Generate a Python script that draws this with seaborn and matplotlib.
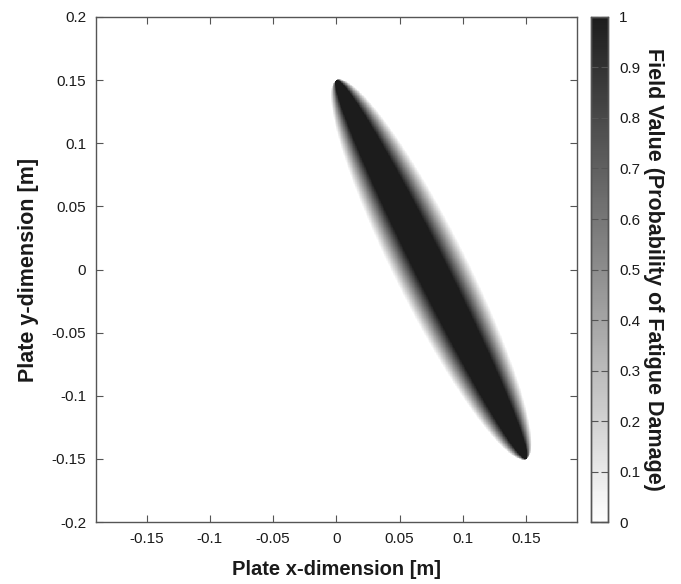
import numpy as np
import matplotlib
matplotlib.use("Agg")
import matplotlib.pyplot as plt
from matplotlib.colors import LinearSegmentedColormap
import seaborn as sns

sns.set_style("white")
plt.rcParams['font.family'] = ['Liberation Sans', 'DejaVu Sans']

# Plate domain [m] and grid step
x_range = [-0.19, 0.19]
y_range = [-0.2, 0.2]
step = 0.0005

# Damage zone: tips, half-width across the band, fully black core fraction
tip_start = [0.0, 0.15]
tip_end = [0.15, -0.15]
half_width = 0.029
core_fraction = 0.42

x_ticks = [-0.15, -0.1, -0.05, 0, 0.05, 0.1, 0.15]
y_ticks = [-0.2, -0.15, -0.1, -0.05, 0, 0.05, 0.1, 0.15, 0.2]
cbar_ticks = [0, 0.1, 0.2, 0.3, 0.4, 0.5, 0.6, 0.7, 0.8, 0.9, 1]

# Build the field on the grid (row 0 = top of plate)
xs = np.arange(x_range[0], x_range[1], step) + step / 2
ys = np.arange(y_range[1], y_range[0], -step) - step / 2
X, Y = np.meshgrid(xs, ys)
p0, p1 = np.array(tip_start), np.array(tip_end)
centre = (p0 + p1) / 2
half_len = np.linalg.norm(p1 - p0) / 2
d = (p1 - p0) / (2 * half_len)
n = np.array([-d[1], d[0]])
s = ((X - centre[0]) * d[0] + (Y - centre[1]) * d[1]) / half_len
t = ((X - centre[0]) * n[0] + (Y - centre[1]) * n[1]) / half_width
chord = np.sqrt(np.clip(1 - s ** 2, 1e-12, None))
u = np.abs(t) / chord
field = np.clip((1 - u) / (1 - core_fraction), 0, 1)
field[np.abs(s) >= 1] = 0

cmap = LinearSegmentedColormap.from_list("fatigue", ["#ffffff", "#1c1c1c"])

fig = plt.figure(figsize=(6.81, 5.84), dpi=100)
ax = fig.add_axes([0.141, 0.106, 0.706, 0.865])
cax = fig.add_axes([0.8674, 0.106, 0.0254, 0.865])

sns.heatmap(field, ax=ax, cbar_ax=cax, cmap=cmap, vmin=0, vmax=1,
            xticklabels=False, yticklabels=False, rasterized=True)

ax.set_xticks([(v - x_range[0]) / step for v in x_ticks])
ax.set_xticklabels([f"{v:g}" for v in x_ticks])
ax.set_yticks([(y_range[1] - v) / step for v in y_ticks])
ax.set_yticklabels([f"{v:g}" for v in y_ticks])
ax.set_xlim(0, len(xs))
ax.set_ylim(len(ys), 0)

for a in (ax, cax):
    a.set_axisbelow(False)
    for sp in a.spines.values():
        sp.set_visible(True)
        sp.set_color("#555555")
        sp.set_linewidth(1.0)

ax.tick_params(direction="in", length=5, width=0.8, color="#555555",
               top=True, right=True, bottom=True, left=True,
               labelsize=11, labelcolor="#1a1a1a", pad=7)
for lbl in ax.get_yticklabels():
    lbl.set_rotation(0)

ax.set_xlabel("Plate x-dimension [m]", fontsize=14.5, fontweight="bold",
              color="#1a1a1a", labelpad=10)
ax.set_ylabel("Plate y-dimension [m]", fontsize=15.5, fontweight="bold",
              color="#1a1a1a", labelpad=9)

cax.set_yticks(cbar_ticks)
cax.set_yticklabels([f"{v:g}" for v in cbar_ticks])
cax.tick_params(direction="in", length=5, width=0.8, color="#555555",
                left=True, right=True, labelsize=11, labelcolor="#1a1a1a", pad=8)
cax.set_ylabel("Field Value (Probability of Fatigue Damage)", fontsize=15.5,
               fontweight="bold", color="#1a1a1a", rotation=-90, labelpad=17)

fig.savefig("out.png", dpi=100)
